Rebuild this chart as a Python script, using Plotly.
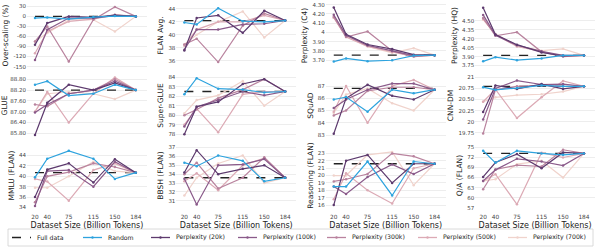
import plotly.graph_objects as go
from plotly.subplots import make_subplots

sizes = [20, 40, 75, 115, 150, 184]
series_names = ["Random", "Perplexity (20k)", "Perplexity (100k)", "Perplexity (300k)",
                "Perplexity (500k)", "Perplexity (700k)"]
colors = ["#2ea3de", "#5d3a6e", "#8a5a8a", "#b9839e", "#dcaab5", "#f0d3cc"]

panel_titles = ["Over-scaling (%)", "FLAN Avg.", "Perplexity (C4)", "Perplexity (HQ)",
                "GLUE", "Super-GLUE", "SQuAD", "CNN-DM",
                "MMLU (FLAN)", "BBSH (FLAN)", "Reasoning (FLAN)", "Q/A (FLAN)"]

full_data = [0, 42.2, 3.755, 3.92, 88.20, 82.5, 86.8, 20.80, 40.7, 33.6, 21.6, 73.2]

over_scaling = [[-5, -3, -8, -2, 1, 0],
                [-85, -20, 0, -3, 4, 0],
                [-130, -40, -5, -5, 2, 0],
                [-75, -30, -135, -10, 28, 0],
                [-110, -45, -15, -8, 5, 0],
                [-75, -50, -10, -10, -45, 0]]
flan_avg = [[41.9, 41.6, 44.1, 42.1, 42.0, 42.2],
            [37.6, 42.6, 43.0, 40.3, 43.7, 42.2],
            [37.7, 40.8, 40.8, 41.6, 41.7, 42.2],
            [38.5, 39.4, 35.8, 41.4, 43.3, 42.2],
            [38.3, 40.8, 42.0, 42.0, 43.0, 42.2],
            [38.5, 40.0, 42.0, 43.6, 39.6, 42.2]]
ppl_c4 = [[3.685, 3.72, 3.69, 3.70, 3.75, 3.755],
          [4.27, 3.98, 3.87, 3.82, 3.76, 3.755],
          [4.19, 3.97, 3.86, 3.80, 3.75, 3.755],
          [4.17, 3.95, 4.01, 3.80, 3.74, 3.755],
          [4.16, 3.95, 3.85, 3.79, 3.74, 3.755],
          [4.16, 3.96, 3.85, 3.78, 3.83, 3.755]]
ppl_hq = [[3.82, 3.89, 3.84, 3.87, 3.92, 3.92],
          [4.72, 4.27, 4.10, 3.97, 3.91, 3.92],
          [4.60, 4.26, 4.09, 3.99, 3.92, 3.92],
          [4.55, 4.25, 4.31, 3.98, 3.90, 3.92],
          [4.53, 4.27, 4.07, 3.99, 3.91, 3.92],
          [4.52, 4.28, 4.08, 4.00, 4.03, 3.92]]
glue = [[88.50, 88.70, 87.90, 88.00, 88.50, 88.20],
        [85.70, 87.50, 88.50, 88.20, 88.60, 88.20],
        [86.95, 87.40, 88.00, 88.20, 88.70, 88.20],
        [87.40, 87.30, 88.00, 88.20, 88.80, 88.20],
        [87.00, 88.10, 86.40, 88.00, 88.90, 88.20],
        [87.00, 88.00, 88.10, 88.00, 87.70, 88.20]]
super_glue = [[82.2, 83.9, 82.8, 82.7, 82.4, 82.5],
              [78.0, 80.9, 81.4, 83.3, 83.8, 82.5],
              [78.8, 80.9, 81.6, 82.5, 82.1, 82.5],
              [80.0, 80.6, 81.8, 82.7, 83.8, 82.5],
              [79.0, 80.7, 78.2, 82.2, 82.5, 82.5],
              [80.2, 81.6, 82.1, 83.6, 81.0, 82.5]]
squad = [[85.9, 86.1, 84.9, 86.7, 86.4, 86.7],
         [83.1, 86.0, 87.1, 86.2, 85.9, 86.7],
         [85.2, 85.9, 86.7, 87.2, 87.2, 86.7],
         [84.6, 85.0, 86.6, 86.9, 86.9, 86.7],
         [84.9, 87.0, 84.0, 87.0, 87.5, 86.7],
         [84.8, 86.3, 86.8, 85.6, 85.0, 86.7]]
cnn_dm = [[20.78, 20.72, 20.76, 20.82, 20.80, 20.80],
          [20.22, 20.82, 20.74, 20.85, 20.74, 20.80],
          [20.05, 20.75, 20.93, 20.84, 20.85, 20.80],
          [19.73, 20.72, 20.80, 20.82, 20.80, 20.80],
          [20.45, 20.73, 20.08, 20.55, 20.92, 20.80],
          [20.45, 20.55, 20.60, 20.62, 20.68, 20.80]]
mmlu = [[39.8, 43.4, 44.9, 43.4, 39.5, 40.7],
        [36.0, 41.3, 42.5, 38.8, 43.3, 40.7],
        [34.3, 41.0, 41.2, 38.0, 42.8, 40.7],
        [35.0, 40.0, 40.8, 42.5, 41.8, 40.7],
        [39.5, 39.0, 35.3, 41.2, 42.5, 40.7],
        [37.8, 37.8, 40.0, 42.8, 41.0, 40.7]]
bbsh = [[35.3, 34.9, 36.1, 35.5, 33.2, 33.6],
        [34.2, 36.7, 34.0, 34.6, 35.0, 33.6],
        [33.5, 30.6, 35.0, 35.1, 35.7, 33.6],
        [34.0, 35.3, 32.4, 33.6, 35.9, 33.6],
        [33.2, 34.1, 32.2, 35.0, 35.8, 33.6],
        [31.6, 33.6, 35.2, 36.1, 33.0, 33.6]]
reasoning = [[18.5, 18.5, 21.9, 17.3, 21.9, 21.6],
             [16.0, 22.0, 22.8, 19.0, 21.6, 21.6],
             [18.5, 17.5, 19.8, 21.5, 20.2, 21.6],
             [19.2, 19.5, 20.2, 23.0, 22.6, 21.6],
             [16.8, 20.3, 18.0, 16.2, 21.0, 21.6],
             [20.0, 20.0, 22.8, 23.2, 18.7, 21.6]]
qa = [[74.0, 70.4, 74.0, 73.2, 72.8, 73.2],
      [66.2, 70.5, 73.0, 68.8, 73.5, 73.2],
      [65.0, 68.3, 71.6, 70.8, 69.6, 73.2],
      [62.5, 68.4, 69.7, 69.3, 74.3, 73.2],
      [65.0, 67.0, 58.0, 73.4, 72.0, 73.2],
      [65.0, 65.5, 70.0, 71.0, 66.0, 73.2]]

panels = [over_scaling, flan_avg, ppl_c4, ppl_hq, glue, super_glue, squad, cnn_dm,
          mmlu, bbsh, reasoning, qa]

y_ticks = [[30, 0, -30, -60, -90, -120, -150],
           [36, 38, 40, 42, 44],
           [3.70, 3.80, 3.90, 4.0, 4.10, 4.20, 4.30],
           [3.75, 3.90, 4.05, 4.20, 4.35, 4.50],
           [85.80, 86.40, 87.00, 87.60, 88.20, 88.80],
           [78, 79, 80, 81, 82, 83, 84],
           [83, 84, 85, 86, 87],
           [19.75, 20.0, 20.25, 20.50, 20.75, 21.0],
           [34, 36, 38, 40, 42, 44],
           [31, 32, 33, 34, 35, 36, 37],
           [16, 17, 18, 19, 20, 21, 22, 23],
           [57, 60, 63, 66, 69, 72, 75]]
y_tick_text = [["30", "0", "-30", "-60", "-90", "-120", "-150"],
               ["36", "38", "40", "42", "44"],
               ["3.70", "3.80", "3.90", "4", "4.10", "4.20", "4.30"],
               ["3.75", "3.90", "4.05", "4.20", "4.35", "4.50"],
               ["85.80", "86.40", "87.00", "87.60", "88.20", "88.80"],
               ["78", "79", "80", "81", "82", "83", "84"],
               ["83", "84", "85", "86", "87"],
               ["19.75", "20", "20.25", "20.50", "20.75", "21"],
               ["34", "36", "38", "40", "42", "44"],
               ["31", "32", "33", "34", "35", "36", "37"],
               ["16", "17", "18", "19", "20", "21", "22", "23"],
               ["57", "60", "63", "66", "69", "72", "75"]]
y_ranges = [[-154, 40], [34.9, 44.9], [3.617, 4.318], [3.71, 4.80],
            [85.54, 89.15], [77.6, 84.45], [82.76, 88.06], [19.63, 21.10],
            [33.9, 46.4], [30.2, 37.5], [15.6, 24.4], [56.9, 76.3]]

W, H = 598, 248
ML, MR, MT, MB = 27, 3, 3, 40
fig = make_subplots(rows=3, cols=4, horizontal_spacing=0.052, vertical_spacing=0.025)

font = "DejaVu Sans"
for i, data in enumerate(panels):
    r, c = i // 4 + 1, i % 4 + 1
    fig.add_trace(go.Scatter(x=[sizes[0], sizes[-1]], y=[full_data[i]] * 2, mode="lines",
                             line=dict(color="#222222", width=1.3, dash="dash"),
                             name="Full data", showlegend=False, hoverinfo="skip"),
                  row=r, col=c)
    for k in [5, 4, 3, 2, 1, 0]:
        fig.add_trace(go.Scatter(x=sizes, y=data[k], mode="lines+markers",
                                 line=dict(color=colors[k], width=1.2),
                                 marker=dict(size=2.5, color=colors[k]),
                                 name=series_names[k], showlegend=False),
                      row=r, col=c)
    fig.update_yaxes(row=r, col=c, range=y_ranges[i], tickvals=y_ticks[i],
                     ticktext=y_tick_text[i], showgrid=True, gridcolor="#e9e9e9",
                     gridwidth=0.8, zeroline=False, showline=False, automargin=False,
                     tickfont=dict(size=5.5, color="#444444", family=font),
                     title=dict(text=panel_titles[i], font=dict(size=7.5, color="#222222", family=font),
                                standoff=3),
                     ticks="", ticklen=0)
    fig.update_xaxes(row=r, col=c, range=[7, 202], tickvals=sizes,
                     ticktext=[str(s) for s in sizes], showgrid=False, zeroline=False,
                     showline=False, showticklabels=(r == 3), automargin=False,
                     ticks="outside", ticklen=3, tickcolor="rgba(0,0,0,0)",
                     tickfont=dict(size=5.8, color="#444444", family=font))
    if r == 3:
        fig.update_xaxes(row=r, col=c,
                         title=dict(text="Dataset Size (Billion Tokens)",
                                    font=dict(size=8, color="#222222", family=font),
                                    standoff=3))

# manual legend drawn in paper coordinates
pw, ph = W - ML - MR, H - MT - MB
def px(x):
    return (x - ML) / pw
def py(y):
    return (H - MB - y) / ph

shapes = [dict(type="rect", xref="paper", yref="paper", x0=px(8), x1=px(593),
               y0=py(229), y1=py(246), line=dict(color="#d0d0d0", width=0.8),
               fillcolor="white", layer="above")]
annotations = []
leg_names = ["Full data"] + series_names
leg_colors = ["#222222"] + colors
leg_x = [12, 83, 151, 238, 327, 418, 508]
ly = 237.5
for j, (nm, col) in enumerate(zip(leg_names, leg_colors)):
    x0 = leg_x[j]
    shapes.append(dict(type="line", xref="paper", yref="paper", x0=px(x0), x1=px(x0 + 19),
                       y0=py(ly), y1=py(ly), layer="above",
                       line=dict(color=col, width=1.3, dash="dash" if j == 0 else "solid")))
    if j > 0:
        shapes.append(dict(type="circle", xref="paper", yref="paper",
                           x0=px(x0 + 8.3), x1=px(x0 + 10.7), y0=py(ly - 1.2), y1=py(ly + 1.2),
                           fillcolor=col, line=dict(color=col, width=0), layer="above"))
    annotations.append(dict(text=nm, xref="paper", yref="paper", x=px(x0 + 23), y=py(ly),
                            xanchor="left", yanchor="middle", showarrow=False,
                            font=dict(size=6.2, family=font, color="#222222")))

fig.update_layout(width=W, height=H, margin=dict(l=ML, r=MR, t=MT, b=MB),
                  plot_bgcolor="white", paper_bgcolor="white", showlegend=False,
                  hovermode=False,
                  font=dict(family=font, size=7, color="#222222"),
                  shapes=shapes, annotations=annotations)
fig.write_html("out.html", config={"displayModeBar": False, "staticPlot": True},
               post_script="document.body.style.margin='0';document.body.style.overflow='hidden';")
